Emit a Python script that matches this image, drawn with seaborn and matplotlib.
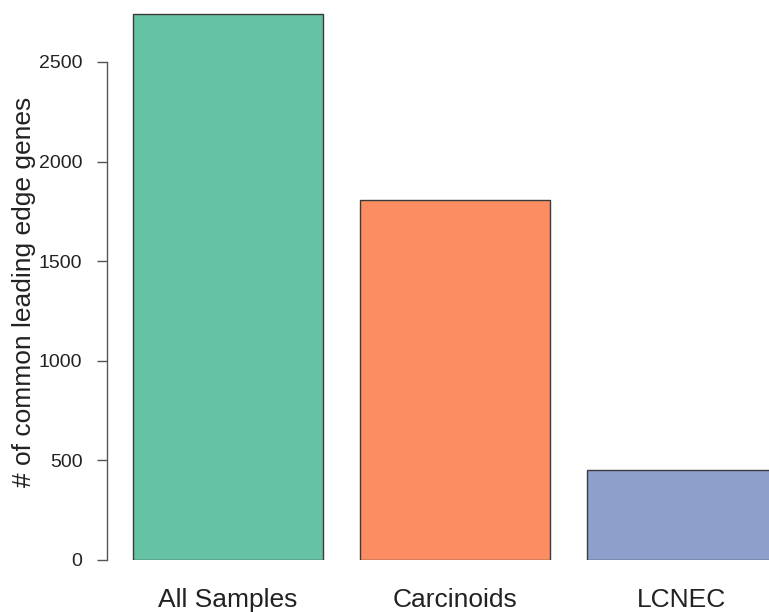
import matplotlib
matplotlib.use("Agg")
import matplotlib.pyplot as plt
import seaborn as sns

# data
groups = ["All Samples", "Carcinoids", "LCNEC"]
n_genes = [2741, 1807, 452]
bar_colors = ["#66C2A5", "#FC8D62", "#8DA0CB"]
y_ticks = [0, 500, 1000, 1500, 2000, 2500]

sns.set_style("white")
plt.rcParams["font.family"] = ["Liberation Sans", "DejaVu Sans"]

fig = plt.figure(figsize=(7.69, 6.12), dpi=100)
# axes deliberately runs past the right edge: last bar is cut off like the original
ax = fig.add_axes([107 / 769, 52 / 612, 711 / 769, 557.8 / 612])

sns.barplot(x=groups, y=n_genes, hue=groups, palette=bar_colors, legend=False,
            width=0.837, saturation=1, edgecolor="#3a3a3a", linewidth=1.0, ax=ax)

ax.set_xlim(-0.533, 2.6)
ax.set_ylim(0, 2800)
ax.set_yticks(y_ticks)
ax.set_yticklabels([str(t) for t in y_ticks])

for side in ["top", "right", "bottom"]:
    ax.spines[side].set_visible(False)
ax.spines["left"].set_bounds(0, 2500)
ax.spines["left"].set_color("#555555")
ax.spines["left"].set_linewidth(1.0)

ax.tick_params(axis="y", length=7.2, width=1.0, color="#555555", pad=10.5,
               labelsize=14, labelcolor="#222222", left=True)
ax.tick_params(axis="x", length=0, pad=20, labelsize=19, labelcolor="#222222")

ax.set_xlabel("")
ax.set_ylabel("# of common leading edge genes", fontsize=19, color="#222222")
ax.yaxis.set_label_coords(-0.10, 0.48)

fig.savefig("out.png", dpi=100)
